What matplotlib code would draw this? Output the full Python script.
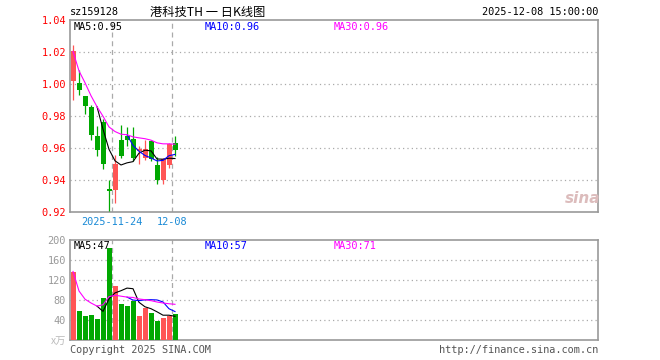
import numpy as np
import pandas as pd
import matplotlib
matplotlib.use("Agg")
import matplotlib.pyplot as plt
from matplotlib.patches import Rectangle

# daily candles, 2025-11-13 .. 2025-12-08
dates = pd.bdate_range("2025-11-13", "2025-12-08")
opens = [1.0017, 1.0006, 0.9927, 0.9856, 0.9677, 0.9760, 0.9346, 0.9335, 0.9652,
         0.9675, 0.9655, 0.9580, 0.9538, 0.9642, 0.9496, 0.9398, 0.9496, 0.9631]
closes = [1.0204, 0.9960, 0.9860, 0.9683, 0.9585, 0.9500, 0.9330, 0.9502, 0.9552,
          0.9652, 0.9538, 0.9595, 0.9594, 0.9532, 0.9398, 0.9531, 0.9625, 0.9585]
highs = [1.0246, 1.0085, 0.9927, 0.9870, 0.9740, 0.9780, 0.9402, 0.9558, 0.9746,
         0.9731, 0.9731, 0.9614, 0.9652, 0.9652, 0.9546, 0.9537, 0.9630, 0.9677]
lows = [0.9902, 0.9933, 0.9810, 0.9650, 0.9550, 0.9471, 0.9204, 0.9256, 0.9537,
        0.9610, 0.9520, 0.9502, 0.9527, 0.9520, 0.9373, 0.9373, 0.9478, 0.9548]
# volume in 10k units
volumes = [137, 59, 49, 51, 43, 84, 184, 109, 73, 69, 78, 48, 64, 54, 38, 44, 48, 53]

price_ticks = [0.92, 0.94, 0.96, 0.98, 1.00, 1.02, 1.04]
vol_ticks = [40, 80, 120, 160, 200]
marked_days = ["2025-11-24", "2025-12-08"]
marked_labels = ["2025-11-24", "12-08"]

RED = "#ff5555"
GREEN = "#00a800"
GRID = "#aaaaaa"
FRAME = "#999999"
MONO = "DejaVu Sans Mono"

df = pd.DataFrame({"open": opens, "close": closes, "high": highs,
                   "low": lows, "vol": volumes}, index=dates[:len(opens)])
ma = {}
for n in (5, 10):
    ma[n] = df["close"].rolling(n).mean()
ma[30] = df["close"].rolling(30, min_periods=1).mean()
vma = {5: df["vol"].rolling(5).mean(), 10: df["vol"].rolling(10).mean(),
       30: df["vol"].rolling(30, min_periods=1).mean()}

W, H = 660, 360
fig = plt.figure(figsize=(W / 100, H / 100), dpi=100)


def fx(px):
    return px / W


def fy(py):
    return 1 - py / H


ax = fig.add_axes([fx(70), fy(212), fx(528), 192 / H])
axv = fig.add_axes([fx(70), fy(340), fx(528), 100 / H])

x = np.arange(len(df))
cx = x + 0.5
bw = 5 / 6
colors = [RED if c > o else GREEN for o, c in zip(df["open"], df["close"])]

for i in x:
    o, c = df["open"].iloc[i], df["close"].iloc[i]
    ax.vlines(cx[i], df["low"].iloc[i], df["high"].iloc[i], color=colors[i], lw=0.9, zorder=3)
    ax.add_patch(Rectangle((cx[i] - bw / 2, min(o, c)), bw, max(abs(c - o), 0.0004),
                           facecolor=colors[i], edgecolor="none", zorder=4))

ax.plot(cx, ma[5], color="black", lw=0.8, zorder=5)
ax.plot(cx, ma[10], color="#0000ff", lw=0.8, zorder=5)
ax.plot(cx, ma[30], color="#ff00ff", lw=0.8, zorder=5)

axv.bar(cx, df["vol"], width=bw, color=colors, zorder=3)
axv.plot(cx, vma[5], color="black", lw=0.8, zorder=5)
axv.plot(cx, vma[10], color="#0000ff", lw=0.8, zorder=5)
axv.plot(cx, vma[30], color="#ff00ff", lw=0.8, zorder=5)

mark_x = [list(df.index.strftime("%Y-%m-%d")).index(d) for d in marked_days]

for a, lo, hi, ticks in ((ax, 0.92, 1.04, price_ticks), (axv, 0, 200, vol_ticks)):
    a.set_xlim(0, 88)
    a.set_ylim(lo, hi)
    a.set_xticks([])
    for s in a.spines.values():
        s.set_color(FRAME)
        s.set_linewidth(1.2)
    for t in ticks:
        if lo < t < hi:
            a.axhline(t, color=GRID, lw=0.9, ls=(0, (1, 2.5)), zorder=1)
    for m in mark_x:
        a.axvline(m, color=GRID, lw=0.9, ls=(0, (4, 3)), zorder=1)
    a.tick_params(axis="y", length=0, pad=3)

ax.set_yticks(price_ticks)
ax.set_yticklabels(["%.2f" % t for t in price_ticks], color="#ff0000",
                   fontsize=7.4, family=MONO)
axv.set_yticks(vol_ticks)
axv.set_yticklabels([str(t) for t in vol_ticks], color="#999999",
                    fontsize=7.4, family=MONO)

for m, lab in zip(mark_x, marked_labels):
    fig.text(fx(70 + 6 * m), fy(222), lab, ha="center", va="center",
             color="#1a8ad6", fontsize=7.4, family=MONO)

# header
fig.text(fx(70), fy(12), "sz159128", ha="left", va="center", fontsize=7.4, family=MONO)
fig.text(fx(150), fy(12), "港科技TH 一 日K线图", ha="left", va="center", fontsize=8.8,
         family=["Noto Sans CJK SC", "DejaVu Sans"])
fig.text(fx(598), fy(12), "2025-12-08 15:00:00", ha="right", va="center",
         fontsize=7.4, family=MONO)

# MA legends
last = len(df) - 1
fig.text(fx(74), fy(27), "MA5:%.2f" % ma[5].iloc[last], fontsize=7.4, family=MONO,
         va="center", color="black")
fig.text(fx(205), fy(27), "MA10:%.2f" % ma[10].iloc[last], fontsize=7.4, family=MONO,
         va="center", color="#0000ff")
fig.text(fx(334), fy(27), "MA30:%.2f" % ma[30].iloc[last], fontsize=7.4, family=MONO,
         va="center", color="#ff00ff")
fig.text(fx(74), fy(246), "MA5:%d" % round(vma[5].iloc[last]), fontsize=7.4, family=MONO,
         va="center", color="black")
fig.text(fx(205), fy(246), "MA10:%d" % round(vma[10].iloc[last]), fontsize=7.4, family=MONO,
         va="center", color="#0000ff")
fig.text(fx(334), fy(246), "MA30:%d" % round(vma[30].iloc[last]), fontsize=7.4, family=MONO,
         va="center", color="#ff00ff")

fig.text(fx(66), fy(341), "x万", ha="right", va="center", fontsize=7.4, color="#bbbbbb",
         style="italic", family=["Noto Sans CJK SC", "DejaVu Sans"])

# footer
fig.text(fx(70), fy(350), "Copyright 2025 SINA.COM", ha="left", va="center",
         fontsize=7.4, family=MONO, color="#555555")
fig.text(fx(598), fy(350), "http://finance.sina.com.cn", ha="right", va="center",
         fontsize=7.4, family=MONO, color="#555555")

# watermark
fig.text(fx(583), fy(198), "sina", ha="center", va="center", fontsize=11,
         fontweight="bold", style="italic", color="#dcbcbc")

fig.savefig("out.png", dpi=100)
